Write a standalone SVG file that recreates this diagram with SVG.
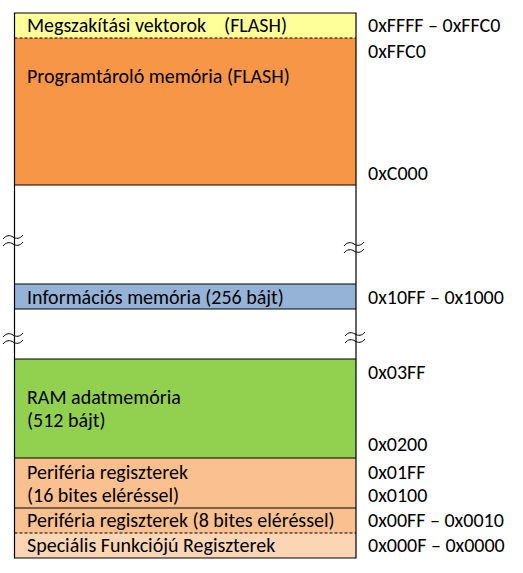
<svg xmlns="http://www.w3.org/2000/svg" width="523" height="573" viewBox="0 0 523 573">
<style>
  .t { font-family: Carlito, Lato, "Liberation Sans", sans-serif; font-size: 20px; fill: #000; white-space: pre; }
  .box { stroke: #000; stroke-width: 1.2; }
  .dash { stroke: #000; stroke-width: 1; stroke-dasharray: 3 2; fill: none; }
  .brk { stroke: #000; stroke-width: 1; fill: none; }
</style>
<rect width="523" height="573" fill="#fff"/>
<g id="vectors">
  <rect x="14.5" y="13" width="341.5" height="25" fill="#FFFF99"/>
  <text class="t" x="27" y="31.5" xml:space="preserve">Megszakítási vektorok    (FLASH)</text>
  <text class="t" x="368" y="31.5">0xFFFF – 0xFFC0</text>
</g>
<g id="program">
  <rect x="14.5" y="38" width="341.5" height="147" fill="#F79646"/>
  <text class="t" x="27" y="82.5">Programtároló memória (FLASH)</text>
  <text class="t" x="368" y="57.5">0xFFC0</text>
  <text class="t" x="368" y="180">0xC000</text>
</g>
<g id="gap1">
  <rect x="14.5" y="185" width="341.5" height="99" fill="#fff"/>
</g>
<g id="info">
  <rect x="14.5" y="284" width="341.5" height="25" fill="#95B3D7"/>
  <text class="t" x="27" y="304">Információs memória (256 bájt)</text>
  <text class="t" x="368" y="304">0x10FF – 0x1000</text>
</g>
<g id="gap2">
  <rect x="14.5" y="309" width="341.5" height="50" fill="#fff"/>
</g>
<g id="ram">
  <rect x="14.5" y="359" width="341.5" height="99" fill="#92D050"/>
  <text class="t" x="27" y="403.5">RAM adatmemória</text>
  <text class="t" x="27" y="426.5">(512 bájt)</text>
  <text class="t" x="368" y="378.5">0x03FF</text>
  <text class="t" x="368" y="451">0x0200</text>
</g>
<g id="periph16">
  <rect x="14.5" y="458" width="341.5" height="50" fill="#FAC090"/>
  <text class="t" x="27" y="478.5">Periféria regiszterek</text>
  <text class="t" x="27" y="501.5">(16 bites eléréssel)</text>
  <text class="t" x="368" y="478.5">0x01FF</text>
  <text class="t" x="368" y="501.5">0x0100</text>
</g>
<g id="periph8">
  <rect x="14.5" y="508" width="341.5" height="25" fill="#FAC090"/>
  <text class="t" x="27" y="526.5">Periféria regiszterek (8 bites eléréssel)</text>
  <text class="t" x="368" y="526.5">0x00FF – 0x0010</text>
</g>
<g id="sfr">
  <rect x="14.5" y="533" width="341.5" height="25" fill="#FCD5B5"/>
  <text class="t" x="27" y="551.5">Speciális Funkciójú Regiszterek</text>
  <text class="t" x="368" y="551.5">0x000F – 0x0000</text>
</g>
<g id="connectors">
  <path class="box" fill="none" d="M14.5 13 H356 V558 H14.5 Z M14.5 185 H356 M14.5 284 H356 M14.5 309 H356 M14.5 359 H356 M14.5 458 H356 M14.5 508 H356"/>
  <path class="dash" d="M14.5 38 H356 M14.5 533 H356"/>
</g>
<g id="breaks">
  <path class="brk" d="M3 239 C6 235 10 235 13 237 S20 239 23 235 M3 246 C6 242 10 242 13 244 S20 246 23 242"/>
  <path class="brk" d="M344 246 C347 242 351 242 354 244 S361 246 364 242 M344 253 C347 249 351 249 354 251 S361 253 364 249"/>
  <path class="brk" d="M3 337 C6 333 10 333 13 335 S20 337 23 333 M3 344 C6 340 10 340 13 342 S20 344 23 340"/>
  <path class="brk" d="M345 336 C348 332 352 332 355 334 S362 336 365 332 M345 343 C348 339 352 339 355 341 S362 343 365 339"/>
</g>
</svg>
